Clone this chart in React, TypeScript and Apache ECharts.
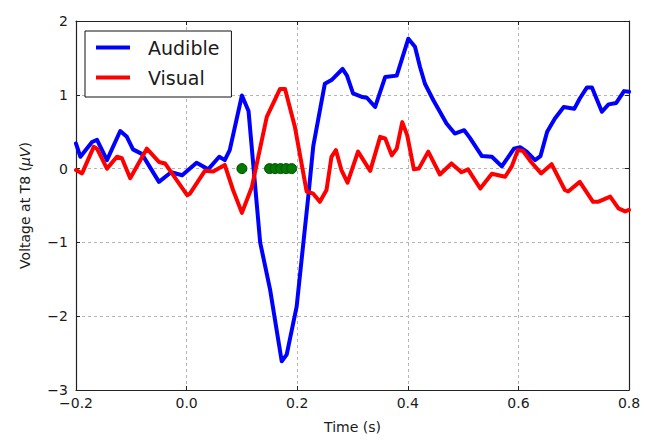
import React, { useEffect, useRef } from "react";
import * as echarts from "echarts";

// Audible (blue) trace: times (s) and voltages (µV)
const audibleT = [
  -0.2, -0.192, -0.171, -0.162, -0.144, -0.12, -0.108, -0.097, -0.081, -0.05,
  -0.028, -0.008, 0.018, 0.039, 0.059, 0.069, 0.078, 0.1, 0.112, 0.133,
  0.151, 0.172, 0.181, 0.199, 0.22, 0.229, 0.25, 0.262, 0.282, 0.29,
  0.301, 0.318, 0.326, 0.341, 0.359, 0.38, 0.401, 0.413, 0.422, 0.431,
  0.446, 0.47, 0.485, 0.502, 0.512, 0.534, 0.552, 0.57, 0.592, 0.603,
  0.615, 0.63, 0.64, 0.652, 0.666, 0.682, 0.701, 0.711, 0.724, 0.733,
  0.751, 0.763, 0.777, 0.791, 0.8,
];
const audibleV = [
  0.34, 0.16, 0.36, 0.39, 0.115, 0.51, 0.43, 0.26, 0.2, -0.18,
  -0.05, -0.09, 0.08, -0.01, 0.16, 0.115, 0.25, 0.99, 0.78, -1.0,
  -1.64, -2.61, -2.52, -1.87, -0.38, 0.3, 1.15, 1.2, 1.35, 1.26,
  1.02, 0.97, 0.96, 0.835, 1.24, 1.26, 1.76, 1.65, 1.38, 1.15,
  0.93, 0.61, 0.475, 0.52, 0.42, 0.17, 0.16, 0.03, 0.27, 0.29,
  0.23, 0.115, 0.17, 0.5, 0.68, 0.835, 0.81, 0.95, 1.1, 1.1,
  0.77, 0.87, 0.89, 1.05, 1.04,
];

// Visual (red) trace
const visualT = [
  -0.2, -0.189, -0.168, -0.162, -0.144, -0.126, -0.117, -0.102, -0.072, -0.05,
  -0.039, 0.001, 0.006, 0.033, 0.048, 0.069, 0.084, 0.1, 0.118, 0.145,
  0.169, 0.178, 0.196, 0.217, 0.229, 0.241, 0.253, 0.262, 0.27, 0.28,
  0.291, 0.31, 0.332, 0.35, 0.359, 0.371, 0.38, 0.39, 0.399, 0.411,
  0.42, 0.437, 0.458, 0.479, 0.497, 0.509, 0.531, 0.552, 0.576, 0.588,
  0.599, 0.608, 0.623, 0.641, 0.66, 0.684, 0.69, 0.711, 0.735, 0.744,
  0.766, 0.781, 0.793, 0.8,
];
const visualV = [
  -0.02, -0.065, 0.295, 0.27, 0.0, 0.16, 0.14, -0.13, 0.27, 0.09,
  0.07, -0.36, -0.34, -0.03, -0.04, 0.05, -0.29, -0.6, -0.25, 0.7,
  1.08, 1.08, 0.56, -0.31, -0.34, -0.45, -0.29, 0.16, 0.25, -0.02,
  -0.19, 0.23, -0.03, 0.43, 0.41, 0.18, 0.27, 0.63, 0.45, -0.01,
  0.0, 0.23, -0.08, 0.07, -0.05, -0.01, -0.27, -0.07, -0.11, 0.03,
  0.25, 0.24, 0.09, -0.065, 0.06, -0.29, -0.31, -0.18, -0.45, -0.45,
  -0.38, -0.54, -0.58, -0.56,
];

// Significant time points (green markers at 0 µV)
const sigT = [0.1, 0.15, 0.16, 0.17, 0.18, 0.19];
const sigV = [0, 0, 0, 0, 0, 0];

const xTicks = { min: -0.2, max: 0.8, interval: 0.2 };
const yTicks = { min: -3, max: 2, interval: 1 };

const FONT = "DejaVu Sans";
const TXT = "#1a1a1a";

const fmtMinus = (s: string, neg: boolean) => (neg ? "\u2212" + s : s);

export default function App() {
  const ref = useRef<HTMLDivElement>(null);
  useEffect(() => {
    if (!ref.current) return;
    const chart = echarts.init(ref.current, undefined, { renderer: "svg" });
    const gridLine = { show: true, lineStyle: { color: "#b5b5b5", type: [3, 3] as any, width: 1 } };
    const frame = { show: true, onZero: false, lineStyle: { color: "#222", width: 1.2 } };
    const tick = { show: true, inside: true, length: 4, lineStyle: { color: "#222" } };
    chart.setOption({
      animation: false,
      backgroundColor: "#fff",
      textStyle: { fontFamily: FONT },
      grid: { left: 76, right: 23, top: 21, bottom: 51, containLabel: false },
      legend: {
        orient: "vertical",
        left: 85,
        top: 31,
        backgroundColor: "#fff",
        borderColor: "#111",
        borderWidth: 1,
        borderRadius: 0,
        padding: [7, 12, 10, 11],
        itemWidth: 34,
        itemHeight: 4,
        itemGap: 11,
        icon: "rect",
        textStyle: { fontSize: 19, fontFamily: FONT, color: TXT, padding: [0, 0, 0, 13] },
        data: ["Audible", "Visual"],
      },
      xAxis: [
        {
          type: "value",
          ...xTicks,
          name: "Time (s)",
          nameLocation: "middle",
          nameGap: 30,
          nameTextStyle: { fontSize: 14, fontFamily: FONT, color: TXT },
          axisLine: frame,
          axisTick: tick,
          splitLine: gridLine,
          axisLabel: {
            fontSize: 14,
            fontFamily: FONT,
            color: TXT,
            margin: 6,
            formatter: (v: number) => fmtMinus(Math.abs(v).toFixed(1), v < -1e-9),
          },
        },
        {
          type: "value",
          position: "top",
          ...xTicks,
          axisLine: frame,
          axisTick: tick,
          splitLine: { show: false },
          axisLabel: { show: false },
        },
      ],
      yAxis: [
        {
          type: "value",
          ...yTicks,
          name: "Voltage at T8 ({it|\u03bcV})",
          nameLocation: "middle",
          nameGap: 44,
          nameTextStyle: {
            fontSize: 14,
            fontFamily: FONT,
            color: TXT,
            rich: { it: { fontSize: 14, fontFamily: FONT, fontStyle: "italic", color: TXT } },
          },
          axisLine: frame,
          axisTick: tick,
          splitLine: gridLine,
          axisLabel: {
            fontSize: 14,
            fontFamily: FONT,
            color: TXT,
            margin: 8,
            formatter: (v: number) => fmtMinus(String(Math.abs(Math.round(v))), v < -1e-9),
          },
        },
        {
          type: "value",
          position: "right",
          ...yTicks,
          axisLine: frame,
          axisTick: tick,
          splitLine: { show: false },
          axisLabel: { show: false },
        },
      ],
      series: [
        {
          name: "Significant",
          type: "scatter",
          data: sigT.map((t, i) => [t, sigV[i]]),
          symbolSize: 10,
          itemStyle: { color: "#007a00", borderColor: "#004d00", borderWidth: 1, opacity: 1 },
          z: 1,
        },
        {
          name: "Audible",
          type: "line",
          data: audibleT.map((t, i) => [t, audibleV[i]]),
          showSymbol: false,
          symbol: "none",
          color: "#0000ff",
          lineStyle: { color: "#0000ff", width: 4, join: "round", cap: "round" },
          z: 2,
        },
        {
          name: "Visual",
          type: "line",
          data: visualT.map((t, i) => [t, visualV[i]]),
          showSymbol: false,
          symbol: "none",
          color: "#ff0000",
          lineStyle: { color: "#ff0000", width: 4, join: "round", cap: "round" },
          z: 3,
        },
      ],
    });
    return () => chart.dispose();
  }, []);
  return (
    <div
      ref={ref}
      style={{ position: "fixed", left: 0, top: 0, width: 652, height: 441, background: "#fff" }}
    />
  );
}
